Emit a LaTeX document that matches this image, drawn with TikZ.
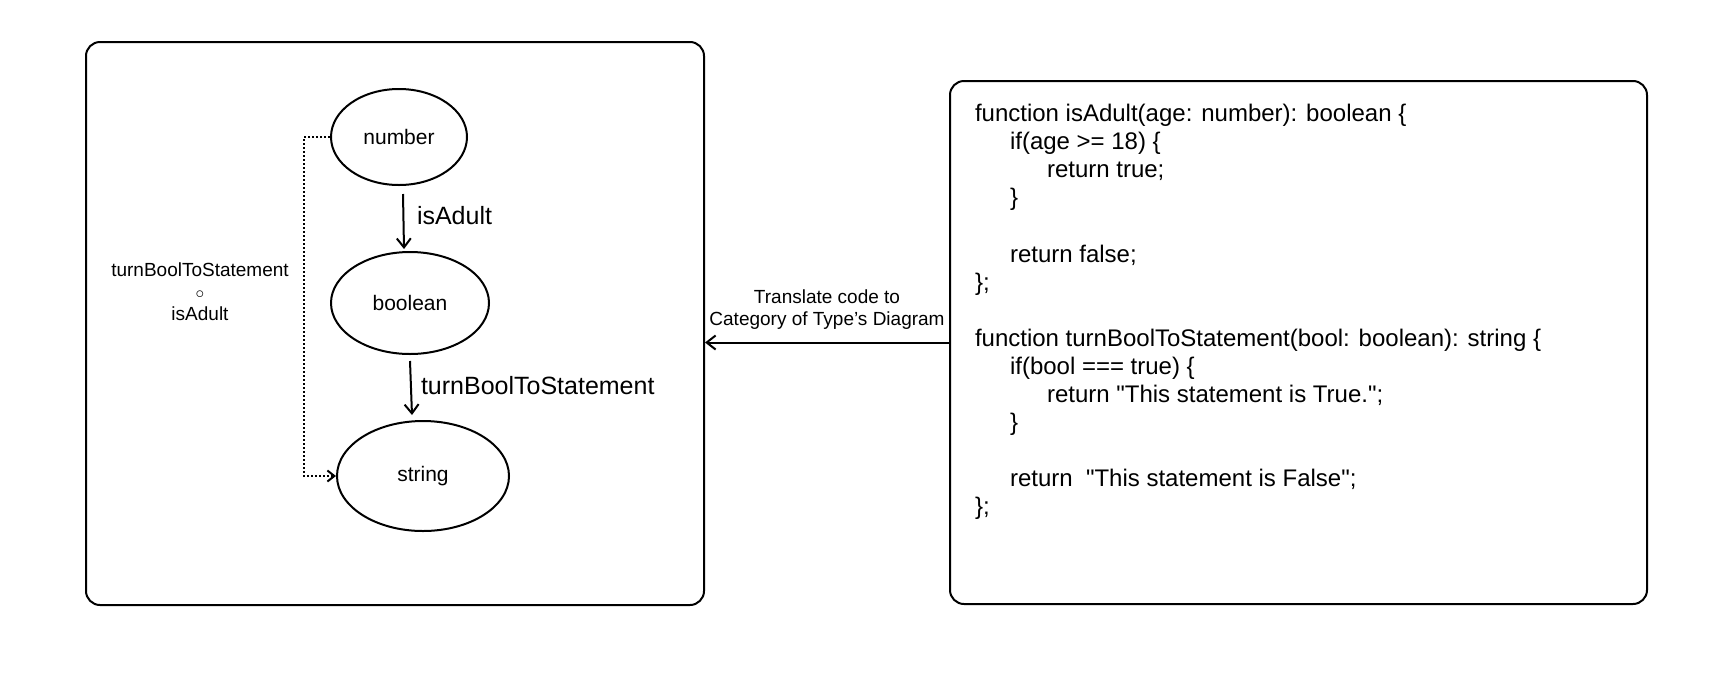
\documentclass[tikz,border=0pt]{standalone}
\usepackage{fontspec}
\setmainfont{Liberation Sans}
\newfontfamily\codefont{Liberation Sans}
\usetikzlibrary{shapes.geometric,arrows.meta}

\begin{document}
\begin{tikzpicture}[x=1pt,y=-1pt,line width=2pt,
  panel/.style={draw,rounded corners=14pt,inner sep=0pt},
  typeobj/.style={draw,ellipse,inner sep=0pt,font=\fontsize{21}{24}\selectfont},
  morph/.style={-{Straight Barb[length=9pt,width=14pt,line width=2pt]}},
  compose/.style={dotted,line width=2pt,-{Straight Barb[length=7pt,width=11pt]}},
  lab/.style={inner sep=0pt,font=\fontsize{25}{28}\selectfont},
  small/.style={inner sep=0pt,align=center,font=\fontsize{19}{22}\selectfont},
  codeline/.style={anchor=west,inner sep=0pt,text height=0.75em,text depth=0.25em,
    font=\codefont\fontsize{24}{28}\selectfont}]
  \useasboundingbox (0,0) rectangle (1724,694);
  \node[panel,minimum width=618pt,minimum height=563pt] (diagram) at (395,323.5) {};
  \node[panel,minimum width=697pt,minimum height=523pt] (code) at (1298.5,342.5) {};
  \node[typeobj,minimum width=136pt,minimum height=96pt] (number) at (399,137) {number};
  \node[typeobj,minimum width=158pt,minimum height=102pt] (boolean) at (410,303) {boolean};
  \node[typeobj,minimum width=172pt,minimum height=110pt] (string) at (423,476) {string};
  \draw[morph] ([xshift=4pt,yshift=-8pt]number.south) -- ([xshift=-6pt,yshift=2pt]boolean.north);
  \draw[morph] ([yshift=-6pt]boolean.south) -- ([xshift=-11pt,yshift=5pt]string.north);
  \node[lab,anchor=west] (isadult) at (416,216) {isAdult};
  \node[lab,anchor=west] (tobool) at (420,386) {turnBoolToStatement};
  \draw[compose] (number.west) -- ++(-26,0) |- (string.west);
  \node[small] (composite) at (200,292) {turnBoolToStatement\\$\circ$\\isAdult};
  \draw[morph] (code.west) -- (diagram.east |- code.west);
  \node[small] (translate) at (827,309.5) {Translate code to\\Category of Type's Diagram};
  \foreach \n/\ind/\txt in {0/0/{function isAdult(age: number): boolean \{},
      1/35/{if(age >= 18) \{},
      2/72/{return true;},
      3/35/{\}},
      5/35/{return false;},
      6/0/{\};},
      8/0/{function turnBoolToStatement(bool: boolean): string \{},
      9/35/{if(bool === true) \{},
      10/72/{return "This statement is True.";},
      11/35/{\}},
      13/35/{return\ \ "This statement is False";},
      14/0/{\};}}
    \node[codeline] (line\n) at (974+\ind,119+28.1*\n) {\txt};
\end{tikzpicture}
\end{document}
